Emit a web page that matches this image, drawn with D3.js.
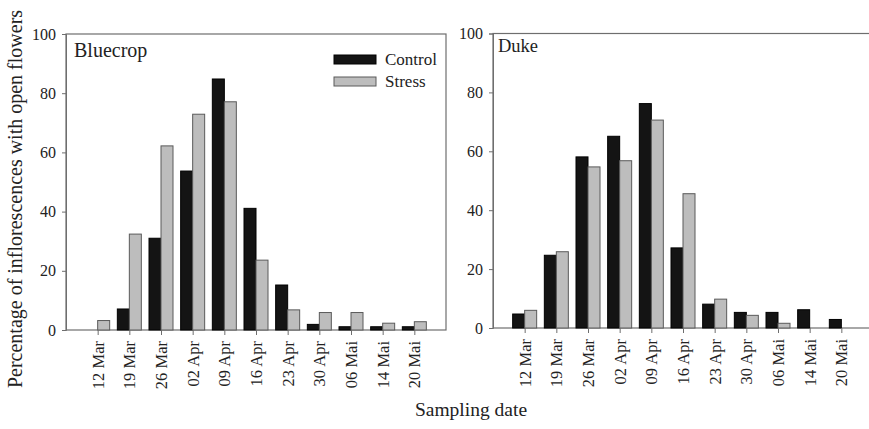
<!DOCTYPE html>
<html lang="en">
<head>
  <meta charset="UTF-8">
  <title>Open flowers - Bluecrop and Duke</title>
  <script src="https://d3js.org/d3.v7.min.js"></script>
  <style>
    body { margin: 0; background: #fff; }
    svg text { font-family: "Liberation Serif", "Times New Roman", serif; fill: #222; }
  </style>
</head>
<body>
  <div id="chart"></div>

  <script>
    // Data
    const dates = ["12 Mar", "19 Mar", "26 Mar", "02 Apr", "09 Apr", "16 Apr",
                   "23 Apr", "30 Apr", "06 Mai", "14 Mai", "20 Mai"];
    const bluecropControl = [0, 7.1, 31, 53.7, 84.8, 41.1, 15.2, 1.9, 1.1, 1.1, 1.1];
    const bluecropStress  = [3.2, 32.4, 62.2, 72.9, 77.1, 23.6, 6.8, 5.9, 5.9, 2.3, 2.8];
    const dukeControl = [4.75, 24.7, 58.1, 65.1, 76.2, 27.2, 8.1, 5.3, 5.3, 6.2, 2.9];
    const dukeStress  = [6.0, 25.9, 54.7, 56.8, 70.6, 45.6, 9.8, 4.3, 1.6, 0, 0];
    const yTicks = [0, 20, 40, 60, 80, 100];
    const seriesNames = ["Control", "Stress"];
    const seriesFill = { Control: "#141414", Stress: "#bdbdbd" };
    const seriesStroke = { Control: "#000", Stress: "#5a5a5a" };

    const W = 869, H = 429;
    const svg = d3.select("#chart").append("svg")
      .attr("width", W).attr("height", H);

    const barW = 12;
    const frameColor = "#6e6e6e";

    function panel(opts) {
      const x = d3.scalePoint().domain(dates).range([opts.x0, opts.x1]).padding(1);
      const y = d3.scaleLinear().domain([0, 100]).range([opts.y0, opts.y1]);
      const g = svg.append("g");

      // frame
      g.append("rect")
        .attr("x", opts.x0).attr("y", opts.y1)
        .attr("width", opts.x1 - opts.x0).attr("height", opts.y0 - opts.y1)
        .attr("fill", "none").attr("stroke", frameColor).attr("stroke-width", 1.2);

      // bars
      const rows = dates.map((d, i) => ({ date: d, Control: opts.control[i], Stress: opts.stress[i] }));
      seriesNames.forEach((s, k) => {
        g.selectAll(".bar-" + s)
          .data(rows.filter(r => r[s] > 0))
          .enter().append("rect")
          .attr("x", r => x(r.date) + (k === 0 ? -barW : 0))
          .attr("y", r => y(r[s]))
          .attr("width", barW)
          .attr("height", r => y(0) - y(r[s]))
          .attr("fill", seriesFill[s])
          .attr("stroke", seriesStroke[s])
          .attr("stroke-width", 1);
      });

      // y axis
      const yAxis = g.append("g")
        .attr("transform", `translate(${opts.x0},0)`)
        .call(d3.axisLeft(y).tickValues(yTicks).tickSize(4).tickPadding(6))
        .attr("font-family", null).attr("font-size", null);
      yAxis.select(".domain").attr("stroke", frameColor);
      yAxis.selectAll(".tick line").attr("stroke", frameColor);
      yAxis.selectAll(".tick text").style("font-size", "16px");

      // x axis
      const xAxis = g.append("g")
        .attr("transform", `translate(0,${opts.y0})`)
        .call(d3.axisBottom(x).tickSize(5).tickPadding(0))
        .attr("font-family", null).attr("font-size", null);
      xAxis.select(".domain").remove();
      xAxis.selectAll(".tick line").attr("stroke", frameColor);
      xAxis.selectAll(".tick text")
        .style("font-size", "16.5px")
        .attr("transform", "rotate(-90)")
        .attr("text-anchor", "end")
        .attr("x", -11).attr("y", 0).attr("dy", "0.33em");

      // panel label
      g.append("text")
        .attr("x", opts.labelX).attr("y", opts.labelY)
        .style("font-size", opts.labelSize + "px")
        .text(opts.label);
    }

    panel({ x0: 66, x1: 446, y0: 330, y1: 34, control: bluecropControl, stress: bluecropStress,
            label: "Bluecrop", labelX: 74, labelY: 57, labelSize: 20 });
    panel({ x0: 493, x1: 873, y0: 328, y1: 33.5, control: dukeControl, stress: dukeStress,
            label: "Duke", labelX: 498, labelY: 52, labelSize: 18.5 });

    // legend
    const legend = svg.append("g");
    seriesNames.forEach((s, i) => {
      legend.append("rect")
        .attr("x", 334).attr("y", 55 + i * 22)
        .attr("width", 42).attr("height", 9)
        .attr("fill", seriesFill[s]).attr("stroke", seriesStroke[s]);
      legend.append("text")
        .attr("x", 385).attr("y", 65 + i * 22)
        .style("font-size", "17px")
        .text(s);
    });

    // axis titles
    svg.append("text")
      .attr("transform", "rotate(-90)")
      .attr("x", -199).attr("y", 22)
      .attr("text-anchor", "middle")
      .style("font-size", "20px")
      .text("Percentage of inflorescences with open flowers");

    svg.append("text")
      .attr("x", 471).attr("y", 416)
      .attr("text-anchor", "middle")
      .style("font-size", "19.5px")
      .text("Sampling date");
  </script>
</body>
</html>
